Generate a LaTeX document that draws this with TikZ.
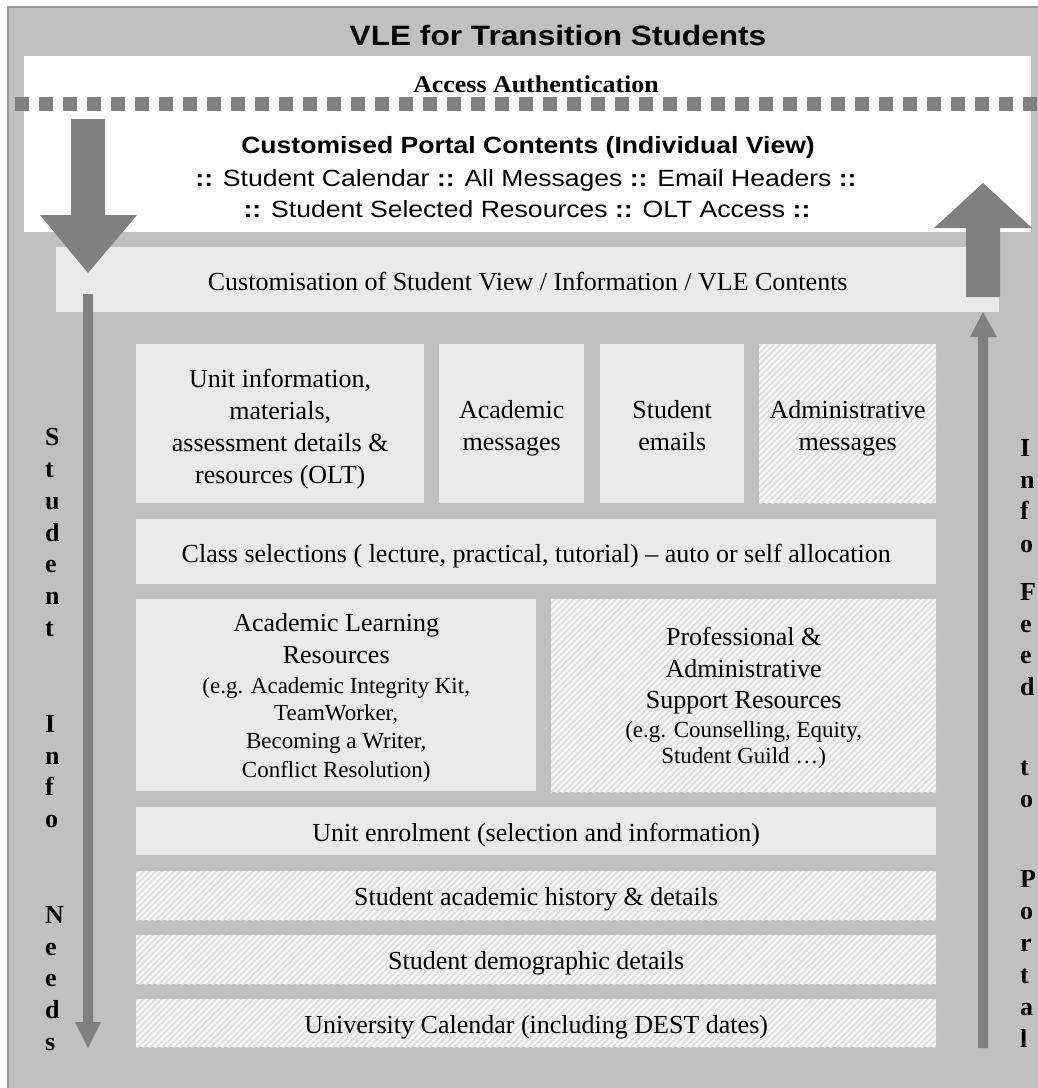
\documentclass[tikz,border=0pt]{standalone}
\usepackage{fontspec}
\setmainfont{Liberation Serif}
\newfontfamily\sansS{Liberation Sans}[FakeStretch=1.13]
\newfontfamily\serifB{Liberation Serif}[FakeStretch=1.08]
\usetikzlibrary{patterns.meta}
\definecolor{bggray}{HTML}{C0C0C0}
\definecolor{dkgray}{HTML}{808080}
\definecolor{ltbox}{HTML}{EAEAEA}
\definecolor{hatchbg}{HTML}{F7F7F7}
\definecolor{hatchln}{HTML}{DEDEDE}
\definecolor{edgegray}{HTML}{999999}
\newcommand{\bigln}{\fontsize{26}{32}\selectfont\strut}
\newcommand{\smallln}{\fontsize{23}{29}\selectfont\strut}
\tikzset{
  plainbox/.style={rectangle, fill=ltbox, inner sep=0pt, anchor=north west},
  hatchbox/.style={plainbox, fill=hatchbg,
    postaction={pattern={Lines[angle=45,distance=4.3pt,line width=1.8pt]}, pattern color=hatchln}},
  boxtext/.style={inner sep=0pt, align=center, font=\fontsize{26}{32}\selectfont},
  vletter/.style={anchor=base west, inner sep=0pt, font=\bfseries\fontsize{26}{30}\selectfont},
  blockarrow/.style={fill=dkgray},
  sanstext/.style={anchor=base, inner sep=0pt, font=\sansS\fontsize{23.5}{28}\selectfont},
}
\begin{document}
\begin{tikzpicture}[x=1pt,y=-1pt]
\useasboundingbox (0,0) rectangle (1038,1088);
% outer panel
\fill[bggray] (8,7) rectangle (1045,1095);
\draw[edgegray, line width=1.5pt] (8,1095) -- (8,7) -- (1045,7);
% title
\node[anchor=base, inner sep=0pt, font=\sansS\bfseries\fontsize{28}{32}\selectfont] (title) at (558,45) {VLE for Transition Students};
% white portal panel
\fill[white] (24,56) rectangle (1031,232);
\node[anchor=base, inner sep=0pt, font=\serifB\bfseries\fontsize{24}{28}\selectfont] (access) at (536,92) {Access Authentication};
\draw[dkgray, line width=14pt, dash pattern=on 14pt off 10pt] (15,104) -- (1050,104);
\node[sanstext, font=\sansS\bfseries\fontsize{23.5}{28}\selectfont] (portal) at (528,153) {Customised Portal Contents (Individual View)};
\node[sanstext] (portalA) at (526,186) {\textbf{::} Student Calendar \textbf{::} All Messages \textbf{::} Email Headers \textbf{::}};
\node[sanstext] (portalB) at (527,217) {\textbf{::} Student Selected Resources \textbf{::} OLT Access \textbf{::}};
% customisation strip
\node[plainbox, minimum width=943pt, minimum height=65pt] (custom) at (56,247) {};
\node[boxtext] (customT) at ([yshift=-4pt]custom.center) {\bigln Customisation of Student View / Information / VLE Contents};
% block arrows
\fill[blockarrow] (71,119) -- (105,119) -- (105,215) -- (137,215) -- (88,273) -- (40,215) -- (71,215) -- cycle;
\fill[blockarrow] (983,183) -- (1032,228) -- (1000,228) -- (1000,297) -- (966,297) -- (966,228) -- (934,228) -- cycle;
% thin arrows
\fill[blockarrow] (83,294) -- (93,294) -- (93,1022) -- (101,1022) -- (88,1048) -- (75,1022) -- (83,1022) -- cycle;
\fill[blockarrow] (983,312) -- (997,337) -- (988,337) -- (988,1048) -- (978,1048) -- (978,337) -- (970,337) -- cycle;
% content boxes
\node[plainbox, minimum width=288pt, minimum height=159pt] (unitinfo) at (136,344) {};
\node[plainbox, minimum width=145pt, minimum height=159pt] (acadmsg) at (439,344) {};
\node[plainbox, minimum width=144pt, minimum height=159pt] (studemail) at (600,344) {};
\node[hatchbox, minimum width=177pt, minimum height=159pt] (adminmsg) at (759,344) {};
\node[plainbox, minimum width=800pt, minimum height=65pt] (classsel) at (136,519) {};
\node[plainbox, minimum width=400pt, minimum height=192pt] (alr) at (136,599) {};
\node[hatchbox, minimum width=385pt, minimum height=193pt] (profadmin) at (551,599) {};
\node[plainbox, minimum width=800pt, minimum height=48pt] (enrol) at (136,807) {};
\node[hatchbox, minimum width=800pt, minimum height=49pt] (history) at (136,871) {};
\node[hatchbox, minimum width=800pt, minimum height=49pt] (demog) at (136,935) {};
\node[hatchbox, minimum width=800pt, minimum height=48pt] (unical) at (136,999) {};
% box texts
\node[boxtext] (unitinfoT) at ([yshift=-5pt]unitinfo.center) {\bigln Unit information,\\ \bigln materials,\\ \bigln assessment details \&\\ \bigln resources (OLT)};
\node[boxtext] (acadmsgT) at ([yshift=-4pt]acadmsg.center) {\bigln Academic\\ \bigln messages};
\node[boxtext] (studemailT) at ([yshift=-4pt]studemail.center) {\bigln Student\\ \bigln emails};
\node[boxtext] (adminmsgT) at ([yshift=-4pt]adminmsg.center) {\bigln Administrative\\ \bigln messages};
\node[boxtext] (classselT) at ([yshift=-4pt]classsel.center) {\bigln Class selections ( lecture, practical, tutorial) – auto or self allocation};
\node[boxtext] (alrT) at ([yshift=-2pt]alr.center) {\bigln Academic Learning\\ \bigln Resources\\[-2pt] \smallln (e.g. Academic Integrity Kit,\\[-5pt] \smallln TeamWorker,\\[-4pt] \smallln Becoming a Writer,\\[-3pt] \smallln Conflict Resolution)};
\node[boxtext] (profadminT) at ([yshift=-2pt]profadmin.center) {\bigln Professional \&\\ \bigln Administrative\\[-1pt] \bigln Support Resources\\[-3pt] \smallln (e.g. Counselling, Equity,\\[-6pt] \smallln Student Guild …)};
\node[boxtext] (enrolT) at ([yshift=-4pt]enrol.center) {\bigln Unit enrolment (selection and information)};
\node[boxtext] (historyT) at ([yshift=-3pt]history.center) {\bigln Student academic history \& details};
\node[boxtext] (demogT) at ([yshift=-3pt]demog.center) {\bigln Student demographic details};
\node[boxtext] (unicalT) at ([yshift=-4pt]unical.center) {\bigln University Calendar (including DEST dates)};
% vertical labels
\foreach \l/\yy [count=\i] in {S/445,t/477,u/509,d/541,e/572,n/604,t/636,I/732,n/764,f/795,o/827,N/923,e/955,e/986,d/1018,s/1050}
  \node[vletter] (sn\i) at (45,\yy) {\l};
\foreach \l/\yy [count=\i] in {I/456,n/488,f/519,o/552,F/600,e/632,e/663,d/695,t/775,o/807,P/887,o/919,r/951,t/983,a/1015,l/1047}
  \node[vletter] (ip\i) at (1020,\yy) {\l};
\end{tikzpicture}
\end{document}
